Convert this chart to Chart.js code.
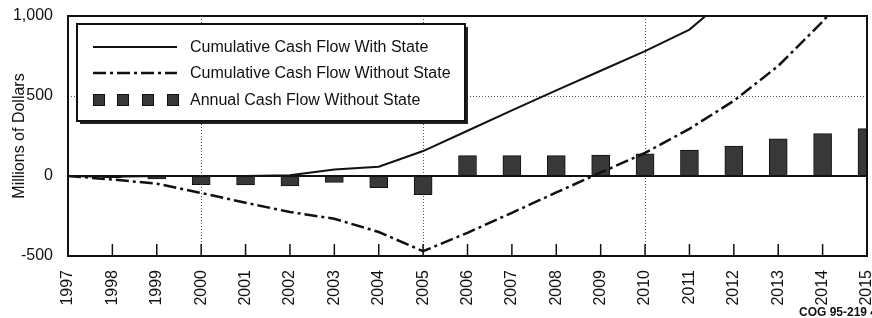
<!DOCTYPE html>
<html>
<head>
<meta charset="utf-8">
<script src="https://cdn.jsdelivr.net/npm/chart.js@4.4.1/dist/chart.umd.min.js"></script>
<style>
  html, body { margin: 0; padding: 0; background: #fff; }
  #wrap { width: 872px; height: 318px; }
</style>
</head>
<body>
<div id="wrap"><canvas id="chart" width="872" height="318"></canvas></div>
<script>
const years = ['1997', '1998', '1999', '2000', '2001', '2002', '2003', '2004', '2005', '2006',
  '2007', '2008', '2009', '2010', '2011', '2012', '2013', '2014', '2015'];
// millions of dollars (lines run off the top past 1,000)
const withState = [0, -5, 0, 0, 0, 5, 40, 58, 156, 283, 410, 535, 658, 780, 915, 1150, null, null, null];
const withoutState = [0, -22, -48, -106, -167, -225, -267, -350, -470, -355, -230, -103, 22, 144, 295, 470, 688, 965, 1280];
const annualWithout = [0, -10, -18, -54, -56, -62, -40, -73, -117, 127, 127, 127, 130, 139, 162, 187, 233, 265, 296];
const yTicks = [-500, 0, 500, 1000];
const gridYears = ['2000', '2005', '2010'];
const gridValues = [500];
const labels = ['Cumulative Cash Flow With State', 'Cumulative Cash Flow Without State', 'Annual Cash Flow Without State'];
const footnote = 'COG 95-219 48';

const FONT = '"Liberation Sans", Arial, Helvetica, sans-serif';

const framePlugin = {
  id: 'frame',
  beforeDatasetsDraw(chart) {
    const { ctx, chartArea: a, scales: { x, y } } = chart;
    ctx.save();
    ctx.strokeStyle = '#555';
    ctx.lineWidth = 1;
    ctx.setLineDash([1, 2]);
    gridYears.forEach(v => {
      const px = Math.round(x.getPixelForValue(years.indexOf(v))) + 0.5;
      ctx.beginPath();
      ctx.moveTo(px, a.top);
      ctx.lineTo(px, a.bottom);
      ctx.stroke();
    });
    gridValues.forEach(v => {
      const py = Math.round(y.getPixelForValue(v)) + 0.5;
      ctx.beginPath();
      ctx.moveTo(a.left, py);
      ctx.lineTo(a.right, py);
      ctx.stroke();
    });
    ctx.restore();
  },
  afterDatasetsDraw(chart) {
    const { ctx, chartArea: a, scales: { x, y } } = chart;
    ctx.save();
    ctx.strokeStyle = '#111';
    // zero line
    ctx.lineWidth = 2;
    const y0 = y.getPixelForValue(0);
    ctx.beginPath();
    ctx.moveTo(a.left, y0);
    ctx.lineTo(a.right, y0);
    ctx.stroke();
    // inside tick marks along the bottom
    ctx.lineWidth = 1.5;
    years.forEach((v, i) => {
      const px = x.getPixelForValue(i);
      ctx.beginPath();
      ctx.moveTo(px, a.bottom);
      ctx.lineTo(px, a.bottom - 12);
      ctx.stroke();
    });
    // frame
    ctx.lineWidth = 2;
    ctx.strokeRect(a.left, a.top, a.right - a.left, a.bottom - a.top);
    ctx.restore();
  },
  afterDraw(chart) {
    const { ctx } = chart;
    const ds = chart.data.datasets;
    ctx.save();
    // legend box with a drop shadow
    const bx = 77, by = 24, bw = 388, bh = 97;
    ctx.fillStyle = '#222';
    ctx.fillRect(bx + 3, by + 3, bw, bh);
    ctx.fillStyle = '#fff';
    ctx.fillRect(bx, by, bw, bh);
    ctx.strokeStyle = '#111';
    ctx.lineWidth = 2;
    ctx.strokeRect(bx, by, bw, bh);

    const rows = [47, 73, 100];
    ctx.font = '16px ' + FONT;
    ctx.fillStyle = '#111';
    ctx.textBaseline = 'middle';
    ctx.textAlign = 'left';
    ds.forEach((d, i) => {
      const ry = rows[i];
      if (d.type === 'line') {
        ctx.strokeStyle = d.borderColor;
        ctx.lineWidth = d.borderWidth;
        ctx.setLineDash(d.borderDash || []);
        ctx.beginPath();
        ctx.moveTo(93, ry);
        ctx.lineTo(177, ry);
        ctx.stroke();
        ctx.setLineDash([]);
      } else {
        [93, 117, 142, 167].forEach(sx => {
          ctx.fillStyle = d.backgroundColor;
          ctx.fillRect(sx, ry - 6, 12, 12);
          ctx.strokeStyle = d.borderColor;
          ctx.lineWidth = 1;
          ctx.strokeRect(sx + 0.5, ry - 5.5, 11, 11);
        });
      }
      ctx.fillStyle = '#111';
      ctx.fillText(d.label, 190, ry + 1);
    });

    ctx.font = 'bold 12px ' + FONT;
    ctx.textBaseline = 'alphabetic';
    ctx.fillText(footnote, 799, 316);
    ctx.restore();
  }
};

new Chart(document.getElementById('chart'), {
  type: 'bar',
  plugins: [framePlugin],
  data: {
    labels: years,
    datasets: [
      {
        type: 'line',
        label: labels[0],
        data: withState,
        borderColor: '#111',
        borderWidth: 2,
        pointRadius: 0,
        tension: 0,
        order: 1
      },
      {
        type: 'line',
        label: labels[1],
        data: withoutState,
        borderColor: '#111',
        borderWidth: 2.5,
        borderDash: [13, 4, 3, 4],
        pointRadius: 0,
        tension: 0,
        order: 1
      },
      {
        type: 'bar',
        label: labels[2],
        data: annualWithout,
        backgroundColor: '#383838',
        borderColor: '#111',
        borderWidth: 1,
        barThickness: 18,
        order: 2
      }
    ]
  },
  options: {
    responsive: false,
    animation: false,
    devicePixelRatio: 1,
    layout: { padding: { top: 16, right: 5, left: 0, bottom: 0 } },
    plugins: { legend: { display: false }, tooltip: { enabled: false } },
    scales: {
      x: {
        type: 'category',
        offset: false,
        grid: { display: false, offset: false },
        border: { display: false },
        ticks: {
          autoSkip: false,
          minRotation: 90,
          maxRotation: 90,
          padding: 6,
          color: '#111',
          font: { family: FONT, size: 16 }
        },
        afterFit(scale) {
          scale.height = 62;
          scale.paddingLeft = 0;
          scale.paddingRight = 0;
        }
      },
      y: {
        min: -500,
        max: 1000,
        grid: { display: false },
        border: { display: false },
        afterBuildTicks(scale) {
          scale.ticks = yTicks.map(v => ({ value: v }));
        },
        ticks: {
          padding: 7,
          color: '#111',
          font: { family: FONT, size: 16 },
          callback: v => v.toLocaleString('en-US')
        },
        title: {
          display: true,
          text: 'Millions of Dollars',
          color: '#111',
          font: { family: FONT, size: 16 },
          padding: { top: 10, bottom: 0 }
        },
        afterFit(scale) {
          scale.width = 68;
          scale.paddingTop = 0;
          scale.paddingBottom = 0;
        }
      }
    }
  }
});
</script>
</body>
</html>
